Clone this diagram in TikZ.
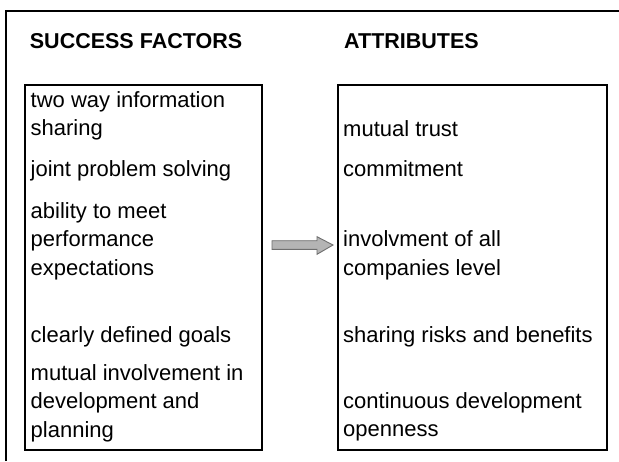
\documentclass[tikz,border=0pt]{standalone}
\usepackage{fontspec}
\setmainfont{Liberation Sans}
\usepackage{tikz}
\usetikzlibrary{positioning,calc}
\newcommand{\itemlines}[1]{\begin{tabular}[t]{@{}l@{}}#1\end{tabular}}
\definecolor{arrowgray}{HTML}{B4B4B4}
\definecolor{arrowline}{HTML}{6E6E6E}
\tikzset{
  listbox/.style={draw, line width=1.6pt, minimum height=365, inner sep=0pt},
  head/.style={anchor=base west, inner sep=0pt, font=\fontsize{21.5}{26}\selectfont\bfseries},
  entry/.style={anchor=base west, inner sep=0pt}
}
\begin{document}
\begin{tikzpicture}[x=1pt,y=-1pt,font=\fontsize{22}{28.5}\selectfont]
            \useasboundingbox (0,0) rectangle (619,461);
            \fill[white] (0,0) rectangle (619,461);
            \draw[line width=2pt] (6,461) |- (619,10.5);
            \node[head] (SF) at (29.7,48) {SUCCESS FACTORS};
            \node[head] (AT) at (344,48) {ATTRIBUTES};
            \node[listbox, minimum width=237] (FB) at (143.5,267.5) {};
            \node[listbox, minimum width=269] (AB) at (472.5,267.5) {};
            \node[entry] (F1) at (30.5,107) {\itemlines{two way information\\ sharing}};
            \node[entry] (F2) at (30.5,176.5) {joint problem solving};
            \node[entry] (F3) at (30.5,218) {\itemlines{ability to meet\\ performance\\ expectations}};
            \node[entry] (F4) at (30.5,342) {clearly defined goals};
            \node[entry] (F5) at (30.5,380) {\itemlines{mutual involvement in\\ development and\\ planning}};
            \node[entry] (A1) at (343,136) {mutual trust};
            \node[entry] (A2) at (343,176.5) {commitment};
            \node[entry] (A3) at (343,246.5) {\itemlines{involvment of all\\ companies level}};
            \node[entry] (A4) at (343,342) {sharing risks and benefits};
            \node[entry] (A5) at (343,408) {\itemlines{continuous development\\ openness}};
            \coordinate (tail) at (272,245);
            \coordinate (tip) at (333,245);
            \draw[fill=arrowgray, draw=arrowline, line width=0.9pt, line join=miter]
              ($(tail)+(0,-4.3)$) -- (317,240.7) -- (317,236.7) -- (tip)
              -- (317,254.3) -- (317,249.3) -- ($(tail)+(0,4.3)$) -- cycle;
\end{tikzpicture}
\end{document}
